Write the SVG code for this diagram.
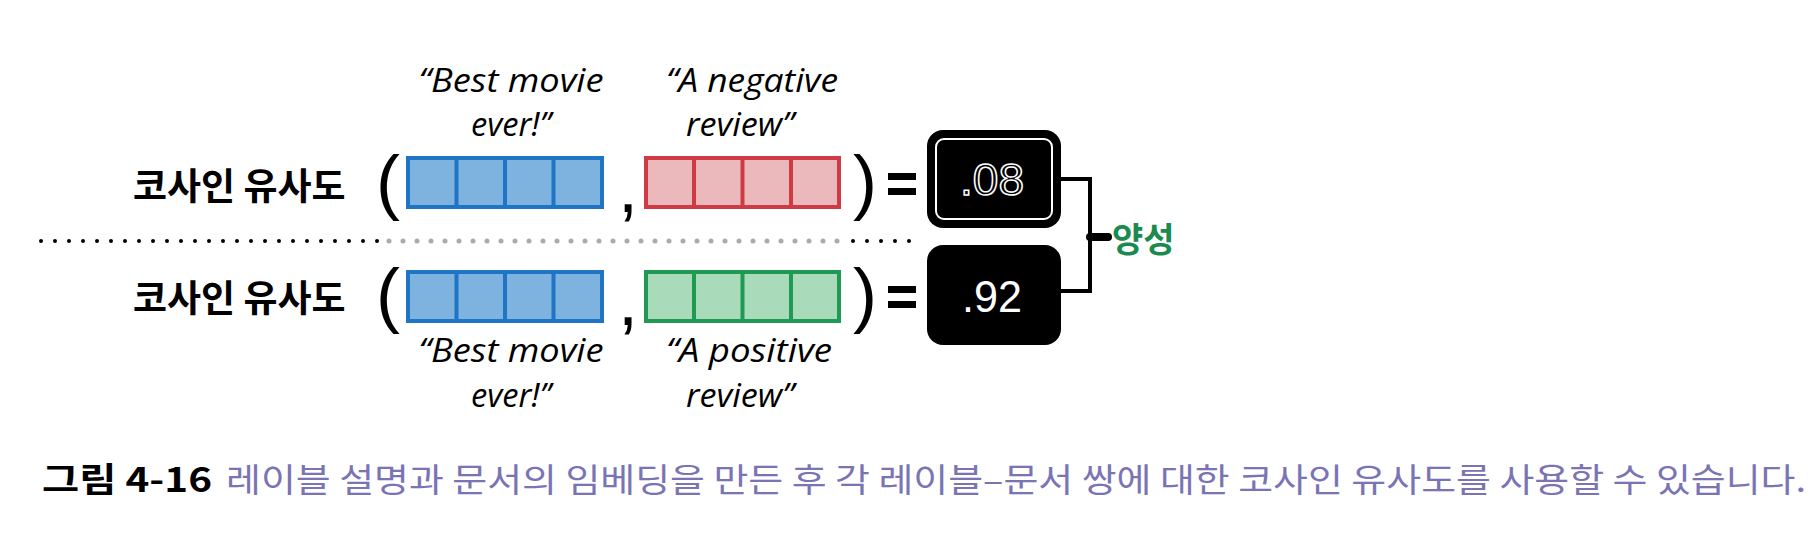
<svg xmlns="http://www.w3.org/2000/svg" width="1820" height="544" viewBox="0 0 1820 544">
<style>
.lbl{font-family:"Noto Sans CJK KR","Noto Sans",sans-serif;font-weight:700;font-size:37px;fill:#000}
.q{font-family:"Open Sans","Noto Sans",sans-serif;font-style:italic;font-size:33px;fill:#000;text-anchor:middle}
.par{font-family:"Liberation Sans",sans-serif;font-size:72px;fill:#000}
.blue{fill:#7fb3df;stroke:#1f74c4;stroke-width:4}
.red{fill:#ebb8bc;stroke:#d03a44;stroke-width:4}
.green{fill:#a9dbbb;stroke:#1e9a55;stroke-width:4}
.num{font-family:"Liberation Sans",sans-serif;font-size:44px;text-anchor:middle}
</style>
<rect width="1820" height="544" fill="#fff"/>
<g id="label-top"><text class="lbl" x="133" y="200">코사인 유사도</text></g>
<g id="label-bottom"><text class="lbl" x="133" y="312">코사인 유사도</text></g>
<g id="paren-top"><text class="par" x="376" y="206">(</text><text class="par" x="853" y="206">)</text><text class="par" x="618" y="212" font-size="50">,</text></g>
<g id="paren-bottom"><text class="par" x="376" y="319">(</text><text class="par" x="853" y="319">)</text><text class="par" x="618" y="325" font-size="50">,</text></g>
<g id="eq"><rect x="888" y="173" width="28" height="7"/><rect x="888" y="188" width="28" height="7"/><rect x="888" y="286" width="28" height="7"/><rect x="888" y="301" width="28" height="7"/></g>
<g id="vec-best-top">
<rect class="blue" x="408" y="158" width="194" height="49"/>
<path d="M456.5 158V207M505 158V207M553.5 158V207" stroke="#1f74c4" stroke-width="4"/>
</g>
<g id="vec-negative">
<rect class="red" x="646" y="158" width="193" height="49"/>
<path d="M694 158V207M742.5 158V207M791 158V207" stroke="#d03a44" stroke-width="4"/>
</g>
<g id="vec-best-bottom">
<rect class="blue" x="408" y="272" width="194" height="49"/>
<path d="M456.5 272V321M505 272V321M553.5 272V321" stroke="#1f74c4" stroke-width="4"/>
</g>
<g id="vec-positive">
<rect class="green" x="646" y="272" width="193" height="49"/>
<path d="M694 272V321M742.5 272V321M791 272V321" stroke="#1e9a55" stroke-width="4"/>
</g>
<g id="texts">
<text class="q" x="511" y="92" textLength="185" lengthAdjust="spacingAndGlyphs">“Best movie</text>
<text class="q" x="511" y="136" textLength="80" lengthAdjust="spacingAndGlyphs">ever!”</text>
<text class="q" x="752" y="92" textLength="172" lengthAdjust="spacingAndGlyphs">“A negative</text>
<text class="q" x="740" y="136" textLength="108" lengthAdjust="spacingAndGlyphs">review”</text>
<text class="q" x="511" y="362" textLength="185" lengthAdjust="spacingAndGlyphs">“Best movie</text>
<text class="q" x="511" y="407" textLength="80" lengthAdjust="spacingAndGlyphs">ever!”</text>
<text class="q" x="749" y="362" textLength="166" lengthAdjust="spacingAndGlyphs">“A positive</text>
<text class="q" x="740" y="407" textLength="108" lengthAdjust="spacingAndGlyphs">review”</text>
</g>
<g id="divider">
<line x1="41" y1="241" x2="378" y2="241" stroke="#000" stroke-width="4" stroke-linecap="round" stroke-dasharray="0 14"/>
<line x1="389" y1="241" x2="846" y2="241" stroke="#aaa" stroke-width="5" stroke-linecap="round" stroke-dasharray="0 14"/>
<line x1="853" y1="241" x2="923" y2="241" stroke="#000" stroke-width="4" stroke-linecap="round" stroke-dasharray="0 14"/>
</g>
<g id="score-08">
<rect x="927" y="130" width="134" height="98" rx="16" fill="#000"/>
<rect x="936" y="139" width="116" height="80" rx="8" fill="none" stroke="#fff" stroke-width="2"/>
<text class="num" x="992" y="195" fill="none" stroke="#fff" stroke-width="1.5" textLength="64" lengthAdjust="spacingAndGlyphs">.08</text>
</g>
<g id="score-92">
<rect x="927" y="245" width="134" height="100" rx="16" fill="#000"/>
<text class="num" x="992" y="312" fill="#fff" textLength="60" lengthAdjust="spacingAndGlyphs">.92</text>
</g>
<g id="connectors" fill="none" stroke="#000" stroke-width="4">
<path d="M1061 179H1090V291H1061"/>
<path d="M1090 237H1108" stroke-width="8" stroke-linecap="round"/>
</g>
<g id="result"><text x="1112" y="252" font-family="Noto Sans CJK KR,sans-serif" font-weight="700" font-size="34" fill="#1a8a4e">양성</text></g>
<g id="caption">
<text x="42" y="492" font-family="Noto Sans CJK KR,sans-serif" font-weight="700" font-size="34" fill="#000" textLength="170" lengthAdjust="spacingAndGlyphs">그림 4-16</text>
<text x="226" y="492" font-family="Noto Sans CJK KR,sans-serif" font-size="33" fill="#7b74b4" textLength="1580" lengthAdjust="spacingAndGlyphs">레이블 설명과 문서의 임베딩을 만든 후 각 레이블–문서 쌍에 대한 코사인 유사도를 사용할 수 있습니다.</text>
</g>
</svg>
